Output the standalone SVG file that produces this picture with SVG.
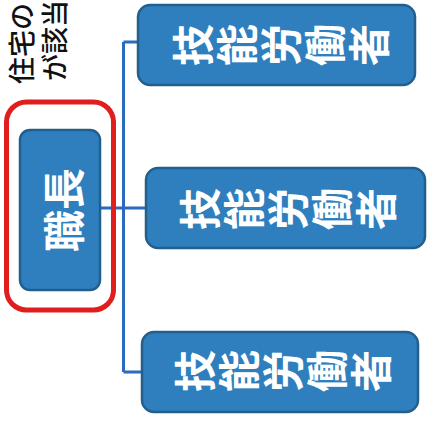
<svg xmlns="http://www.w3.org/2000/svg" width="430" height="428" viewBox="0 0 430 428">
<style>
.box{fill:#2f7fbe;stroke:#235f8c;stroke-width:2.5}
.lbl{font-family:"Noto Sans CJK JP","Noto Sans CJK SC",sans-serif;font-weight:bold;fill:#fff;font-size:42px}
.cap{font-family:"Noto Sans CJK JP","Noto Sans CJK SC",sans-serif;font-weight:500;fill:#111;font-size:27px}
.con{stroke:#2a6bc0;stroke-width:3;fill:none}
</style>
<rect width="430" height="428" fill="#fff"/>
<g id="caption">
<text class="cap" x="20" y="84" transform="rotate(-90 20 84)" dominant-baseline="central">住宅の</text>
<text class="cap" x="53" y="81" transform="rotate(-90 53 81)" dominant-baseline="central">が該当</text>
</g>
<g id="connectors">
<path class="con" d="M123.5 42 V372 M123.5 42 H139 M123.5 372 H143 M100 208 H147"/>
</g>
<g id="highlight">
<rect x="6.5" y="102" width="107" height="208" rx="20" fill="none" stroke="#e01e1e" stroke-width="5"/>
</g>
<g id="shokucho">
<rect class="box" x="20" y="130" width="80" height="160" rx="10"/>
<text class="lbl" x="61" y="210" transform="rotate(-90 61 210)" text-anchor="middle" dominant-baseline="central">職長</text>
</g>
<g id="worker1">
<rect class="box" x="138" y="5" width="277" height="80" rx="12"/>
<g class="lbl" text-anchor="middle" dominant-baseline="central">
<text x="190" y="45" transform="rotate(-90 190 45)">技</text>
<text x="234" y="45" transform="rotate(-90 234 45)">能</text>
<text x="278" y="45" transform="rotate(-90 278 45)">労</text>
<text x="322" y="45" transform="rotate(-90 322 45)">働</text>
<text x="366" y="45" transform="rotate(-90 366 45)">者</text>
</g>
</g>
<g id="worker2">
<rect class="box" x="146" y="168" width="279" height="80" rx="12"/>
<g class="lbl" text-anchor="middle" dominant-baseline="central">
<text x="197" y="209" transform="rotate(-90 197 209)">技</text>
<text x="241" y="209" transform="rotate(-90 241 209)">能</text>
<text x="285" y="209" transform="rotate(-90 285 209)">労</text>
<text x="329" y="209" transform="rotate(-90 329 209)">働</text>
<text x="373" y="209" transform="rotate(-90 373 209)">者</text>
</g>
</g>
<g id="worker3">
<rect class="box" x="142" y="332" width="276" height="80" rx="12"/>
<g class="lbl" text-anchor="middle" dominant-baseline="central">
<text x="192" y="371" transform="rotate(-90 192 371)">技</text>
<text x="236" y="371" transform="rotate(-90 236 371)">能</text>
<text x="280" y="371" transform="rotate(-90 280 371)">労</text>
<text x="324" y="371" transform="rotate(-90 324 371)">働</text>
<text x="368" y="371" transform="rotate(-90 368 371)">者</text>
</g>
</g>
</svg>
